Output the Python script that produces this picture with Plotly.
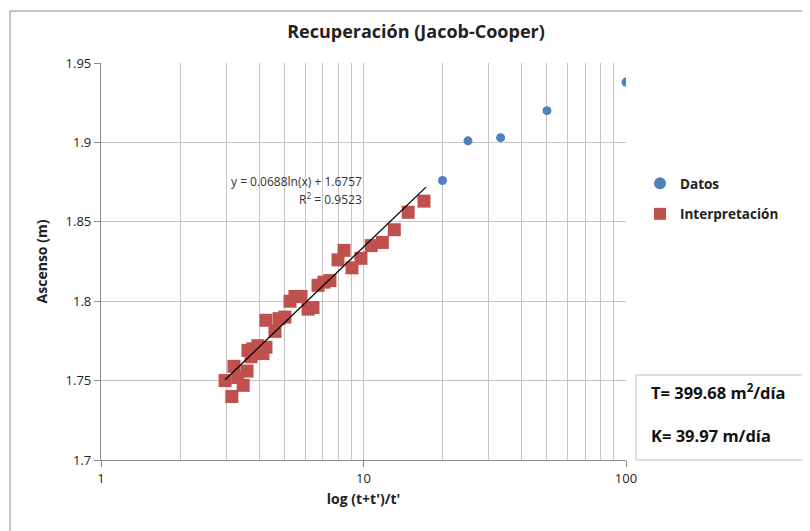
import numpy as np
import plotly.graph_objects as go

# Data
datos_x = [20.0, 25.0, 33.3, 50.0, 100.0]
datos_y = [1.876, 1.901, 1.903, 1.920, 1.938]

interp_x = [2.97, 3.15, 3.21, 3.32, 3.48, 3.60, 3.63, 3.73, 3.79, 3.96, 4.14, 4.25,
            4.25, 4.60, 4.77, 5.02, 5.25, 5.48, 5.78, 6.15, 6.42, 6.71, 7.07, 7.45,
            8.00, 8.43, 9.04, 9.78, 10.7, 11.8, 13.1, 14.8, 17.0]
interp_y = [1.750, 1.740, 1.759, 1.752, 1.747, 1.756, 1.769, 1.765, 1.770, 1.772, 1.767, 1.771,
            1.788, 1.781, 1.789, 1.790, 1.800, 1.803, 1.803, 1.795, 1.796, 1.810, 1.812, 1.813,
            1.826, 1.832, 1.821, 1.827, 1.835, 1.837, 1.845, 1.856, 1.863]

trend_a = 0.0688
trend_b = 1.6757
trend_range = [2.97, 17.3]

y_ticks = [1.7, 1.75, 1.8, 1.85, 1.9, 1.95]
y_tick_labels = ["1.7", "1.75", "1.8", "1.85", "1.9", "1.95"]
x_ticks = [1, 10, 100]
x_tick_labels = ["1", "10", "100"]

FONT = "Open Sans"
W, H = 810, 531
L, T = 93, 55
PW, PH = 525, 397


def px(xp):
    return (xp - 8 - L) / PW


def py(yp):
    return 1 - (yp - 8 - T) / PH


fig = go.Figure()

fig.add_trace(go.Scatter(
    x=datos_x, y=datos_y, mode="markers", name="Datos", legendgroup="a",
    marker=dict(symbol="circle", size=9, color="#4F81BD"),
))
fig.add_trace(go.Scatter(
    x=interp_x, y=interp_y, mode="markers", name="Interpretación", legendgroup="b",
    marker=dict(symbol="square", size=13, color="#C0504D"),
))
tx = np.geomspace(trend_range[0], trend_range[1], 60)
ty = trend_a * np.log(tx) + trend_b
fig.add_trace(go.Scatter(
    x=tx, y=ty, mode="lines", showlegend=False,
    line=dict(color="black", width=1.3), hoverinfo="skip",
))

grid_col = "#c4c4c4"
minor_vals = [v * d for d in (1, 10) for v in range(2, 10)]

fig.update_xaxes(
    type="log", range=[0, 2],
    tickvals=x_ticks, ticktext=x_tick_labels,
    showgrid=True, gridcolor=grid_col, gridwidth=1,
    minor=dict(tickvals=minor_vals, showgrid=True, gridcolor=grid_col, gridwidth=1, ticks=""),
    showline=True, linecolor="#8c8c8c", linewidth=1.2,
    ticks="outside", ticklen=6, tickcolor="#8c8c8c",
    tickfont=dict(family=FONT, size=13, color="#222"),
    title=dict(text="<b>log (t+t')/t'</b>", font=dict(family=FONT, size=14, color="#222"), standoff=8),
    zeroline=False,
)
fig.update_yaxes(
    range=[1.7, 1.95],
    tickvals=y_ticks, ticktext=y_tick_labels,
    showgrid=True, gridcolor=grid_col, gridwidth=1,
    showline=True, linecolor="#8c8c8c", linewidth=1.2,
    ticks="outside", ticklen=6, tickcolor="#8c8c8c",
    tickfont=dict(family=FONT, size=13, color="#222"),
    title=dict(text="<b>Ascenso (m)</b>", font=dict(family=FONT, size=14, color="#222"), standoff=14),
    zeroline=False,
)

fig.update_layout(
    width=W, height=H,
    margin=dict(l=L, r=W - L - PW, t=T, b=H - T - PH),
    paper_bgcolor="white", plot_bgcolor="white",
    title=dict(text="<b>Recuperación (Jacob-Cooper)</b>", x=(416 - 8) / W, xanchor="center",
               y=1 - (32 - 8) / H, yanchor="middle", xref="container", yref="container",
               font=dict(family=FONT, size=18, color="#222")),
    legend=dict(x=px(640), y=py(168), xanchor="left", yanchor="top",
                font=dict(family=FONT, size=13.5, color="#222", weight="bold"),
                bgcolor="rgba(0,0,0,0)", itemsizing="constant", tracegroupgap=10,
                itemwidth=30),
    showlegend=True,
)

# Outer chart border
fig.add_shape(type="rect", xref="paper", yref="paper",
              x0=px(10), x1=px(840), y0=py(570), y1=py(11),
              line=dict(color="#8c8c8c", width=1), fillcolor="rgba(0,0,0,0)", layer="below")

# Text box with T and K
fig.add_shape(type="rect", xref="paper", yref="paper",
              x0=px(636), x1=px(840), y0=py(460), y1=py(375),
              line=dict(color="#bdbdbd", width=1), fillcolor="white")
fig.add_annotation(xref="paper", yref="paper", x=px(649), y=py(392),
                   text="<b>T= 399.68 m<sup>2</sup>/día</b>", showarrow=False,
                   xanchor="left", yanchor="middle",
                   font=dict(family=FONT, size=16.5, color="#111"))
fig.add_annotation(xref="paper", yref="paper", x=px(649), y=py(435),
                   text="<b>K= 39.97 m/día</b>", showarrow=False,
                   xanchor="left", yanchor="middle",
                   font=dict(family=FONT, size=16.5, color="#111"))

# Trendline equation
fig.add_annotation(xref="paper", yref="paper", x=px(364), y=py(181),
                   text="y = 0.0688ln(x) + 1.6757", showarrow=False,
                   xanchor="right", yanchor="middle",
                   font=dict(family=FONT, size=12, color="#333"))
fig.add_annotation(xref="paper", yref="paper", x=px(364), y=py(199),
                   text="R<sup>2</sup> = 0.9523", showarrow=False,
                   xanchor="right", yanchor="middle",
                   font=dict(family=FONT, size=12, color="#333"))

fig.write_html("out.html")
